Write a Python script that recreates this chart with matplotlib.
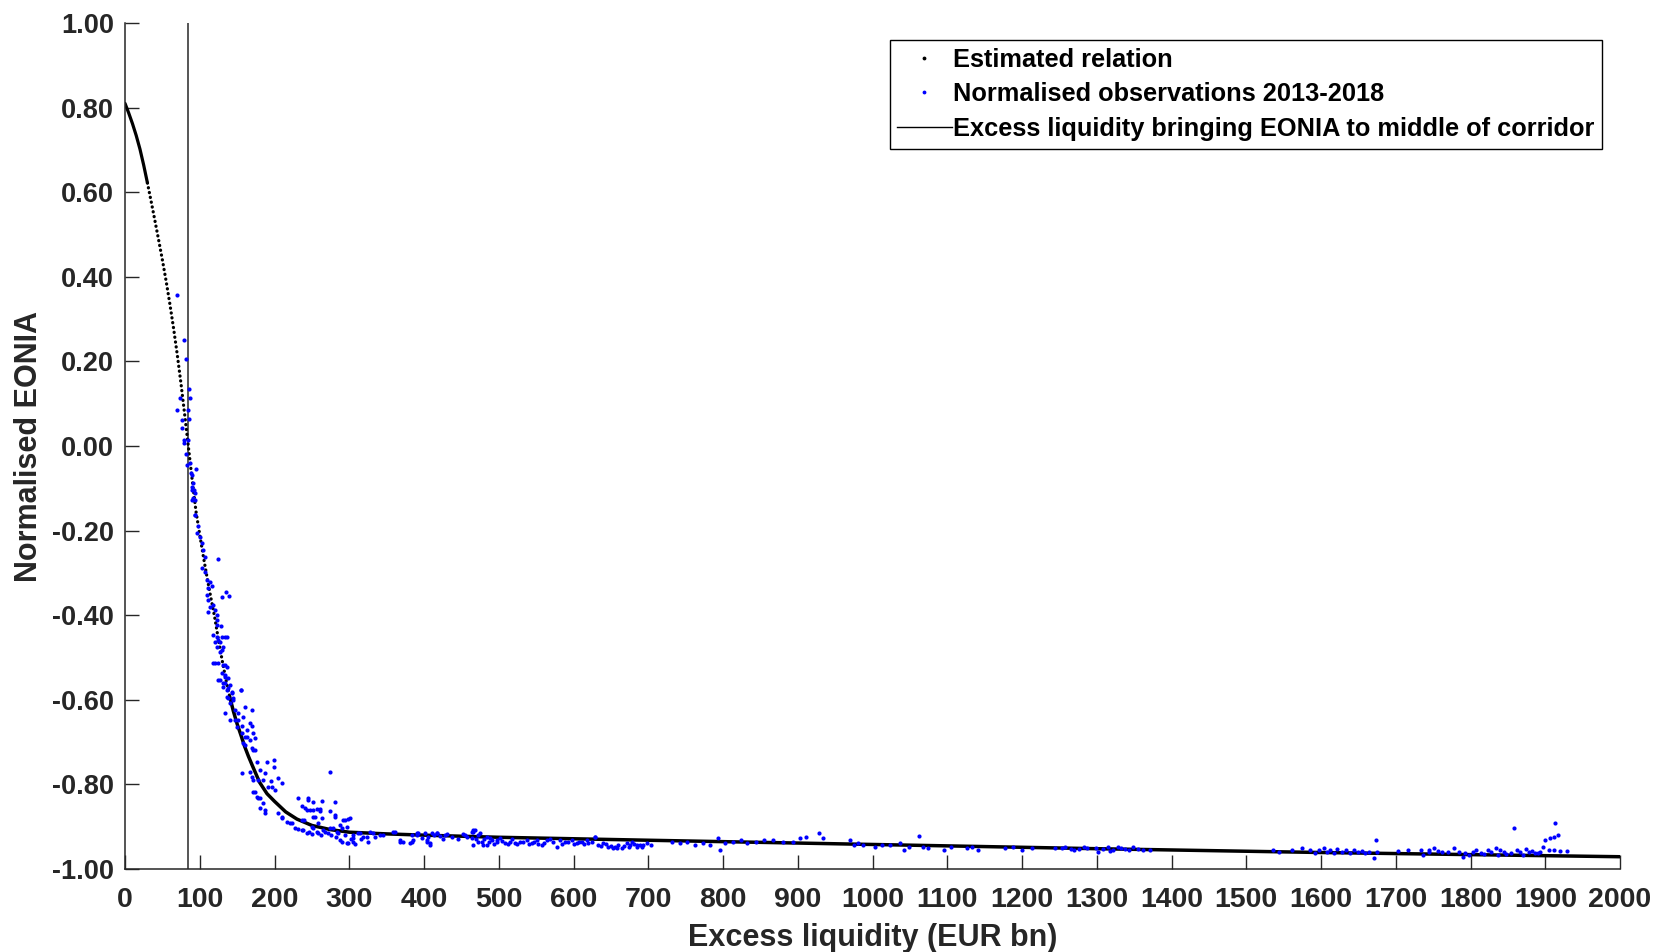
import matplotlib
matplotlib.use("Agg")
import matplotlib.pyplot as plt
from matplotlib.lines import Line2D

plt.rcParams['font.family'] = ['Liberation Sans', 'DejaVu Sans']

# ---- data ----
curve_x = [0, 5, 10, 15, 20, 25, 30, 35, 40, 45, 50, 55, 60, 65, 70, 75, 80, 85, 90, 95,
           100, 105, 110, 115, 120, 125, 130, 135, 140, 145, 150, 155, 160, 165, 170, 180,
           190, 200, 215, 230, 250, 275, 300, 350, 400, 500, 700, 1000, 1300, 1600, 2000]
curve_y = [0.810, 0.787, 0.762, 0.734, 0.702, 0.664, 0.622, 0.578, 0.533, 0.487, 0.440,
           0.390, 0.336, 0.278, 0.215, 0.146, 0.072, -0.005, -0.082, -0.155,
           -0.210, -0.263, -0.313, -0.360, -0.405, -0.458, -0.507, -0.552, -0.592, -0.627,
           -0.657, -0.683, -0.710, -0.733, -0.754, -0.795, -0.822, -0.840, -0.865, -0.882,
           -0.897, -0.907, -0.913, -0.917, -0.920, -0.925, -0.932, -0.942, -0.952, -0.961, -0.971]

obs_x = [
    69.1, 79.4, 81.2, 85.6, 87.4, 73.6, 70.0, 84.3, 76.7, 85.6, 76.3, 79.4, 84.3, 78.9, 82.0,
    83.4, 87.0, 94.5, 88.3, 89.2, 91.4, 89.6, 91.8, 93.6, 90.0, 93.2, 91.4, 89.2, 94.2, 93.6,
    97.3, 95.9,
    100.3, 102.6, 104.8, 107.0, 124.8, 102.6, 107.0, 109.3, 113.7, 111.4, 116.0, 134.7, 130.2,
    139.1, 109.3, 111.4, 118.1, 113.7, 120.4, 111.4, 122.7, 122.7, 122.7, 128.0, 118.1, 122.7,
    129.3, 136.0, 120.4, 127.0, 131.5, 122.7, 127.0, 120.4, 124.8, 131.5, 136.0, 129.3, 133.8,
    138.2, 127.0, 133.8, 140.5, 131.5, 136.0, 142.7, 155.2, 138.2, 144.9,
    124.8, 133.8, 129.3, 118.1, 133.8, 124.8, 133.8, 131.5, 138.2, 142.7, 136.0, 140.5, 144.9,
    147.2, 151.6,
    154.8, 160.5, 151.6, 140.5, 147.0, 158.3, 170.3, 167.2, 156.0, 162.8, 169.5, 160.5, 167.2,
    173.9, 160.5, 169.5, 173.9, 156.0, 176.2, 189.6, 199.3, 167.2, 180.6, 187.3, 199.3, 171.7,
    178.3, 194.9, 205.1, 209.6, 196.2, 200.7, 173.9, 178.3, 185.0, 187.3, 180.6, 187.3, 274.2,
    231.9, 245.2, 251.9, 263.1, 280.9, 236.4, 240.8, 247.5, 256.4, 260.9, 274.2, 254.2, 263.1,
    280.9, 292.0, 298.7, 287.6, 205.1, 209.6, 216.3, 220.7, 227.4, 236.4, 238.6, 243.1, 251.9,
    256.4, 265.3, 272.0, 278.7, 285.4, 289.9, 298.7, 305.4, 312.1, 318.8, 327.8, 341.1, 361.2,
    367.9, 381.3, 390.2, 403.6, 408.0, 417.0, 428.0, 466.0, 472.6, 479.3, 488.3, 497.3,
    133.8, 149.4, 156.0, 162.8, 171.7, 171.7, 158.3, 169.5, 185.0, 191.6, 171.7, 176.2, 180.6,
    209.6, 223.0, 245.2, 243.1, 251.9, 260.9, 239.9, 251.9, 258.6, 280.9, 294.3, 301.0, 236.4,
    249.8, 274.2, 283.2, 289.9, 296.5, 287.6, 296.5, 305.4, 305.4, 314.4, 323.3, 332.2, 345.6,
    359.0, 367.9, 383.5, 390.2,
    372.0, 383.5, 385.8, 392.4, 396.9, 401.3, 403.6, 408.0, 410.3, 417.0, 421.4, 430.4, 452.6,
    463.8, 468.3, 463.8, 466.0, 472.6, 477.2, 483.9, 483.9, 490.6, 497.3, 501.6, 508.4, 515.0,
    521.7, 528.4, 537.4, 544.1, 550.8, 557.5, 564.2, 573.1, 577.5, 582.0, 588.7, 597.6, 604.3,
    611.0, 617.7, 624.4, 628.8, 633.3, 640.0, 646.6, 653.3, 660.0, 664.4, 671.1, 677.8, 684.5,
    691.2, 697.9,
    455.3, 465.6, 629.4, 655.0, 675.5, 685.6, 693.4, 703.5, 731.8, 742.0, 752.2, 762.5, 772.7,
    782.9, 793.2, 795.7, 803.3, 813.6, 823.9, 831.5, 844.4, 854.5, 867.4, 880.2, 893.0, 903.3,
    910.9, 928.8, 933.9, 969.8, 975.0, 980.1, 987.7, 1003.0, 1013.3, 1023.5, 1036.4, 1041.5,
    1049.1, 1061.9, 1067.0, 1074.8, 1095.2, 1105.4, 1125.9, 1133.6, 1141.2, 1177.0, 1187.3,
    1200.0, 1212.9,
    1244, 1253, 1265, 1276, 1287, 1299.3, 1301.7, 1314.7, 1322.4, 1332.7, 1342.9, 1355.8,
    1371.2, 1258, 1270, 1283, 1308, 1318, 1328, 1338, 1348, 1362,
    1535.9, 1543.6, 1561.6, 1574.4, 1584.7, 1592.4, 1597.5, 1607.8, 1618, 1628.3, 1638.7, 1649,
    1659.2, 1673.6, 1670.5, 1674.6, 1604, 1612, 1622, 1633, 1644, 1655, 1664,
    1702.9, 1715.8, 1733.8, 1736.4, 1744, 1751.8, 1762.1, 1777.5, 1785.2, 1793, 1790.4, 1803.3,
    1813.6, 1823.9, 1834.2, 1836.8, 1844.5, 1854.8, 1858.5, 1862.6, 1870.3, 1878, 1885.7,
    1897.6, 1899.7, 1906.4, 1911.5, 1916.7, 1912.5, 1905.2, 1911.5, 1919.3, 1929.6,
    1808, 1818, 1828, 1840, 1848, 1866, 1874, 1882, 1890, 1893, 1745, 1756, 1770, 1798,
    405, 413, 425, 437, 445, 458, 470, 475, 480, 487, 494, 505, 512, 518, 525, 533, 540, 547,
    553, 560, 568, 585, 593, 600, 608, 614, 620, 637, 644, 650, 658, 668, 674, 681, 689,
    232, 246, 250, 258, 262, 268, 276, 282, 294, 302, 308, 316, 325, 335]

obs_y = [
    0.356, 0.250, 0.206, 0.135, 0.114, 0.113, 0.085, 0.084, 0.061, 0.065, 0.042, 0.014, 0.014,
    0.008, -0.019, -0.045, -0.041, -0.055, -0.065, -0.069, -0.088, -0.104, -0.104, -0.112,
    -0.128, -0.128, -0.124, -0.096, -0.163, -0.163, -0.190, -0.206,
    -0.214, -0.230, -0.246, -0.262, -0.266, -0.289, -0.297, -0.317, -0.321, -0.336, -0.332,
    -0.344, -0.358, -0.355, -0.352, -0.364, -0.376, -0.380, -0.388, -0.392, -0.400, -0.411,
    -0.423, -0.425, -0.447, -0.451, -0.451, -0.451, -0.463, -0.463, -0.474, -0.474, -0.486,
    -0.514, -0.512, -0.518, -0.522, -0.537, -0.541, -0.549, -0.553, -0.561, -0.565, -0.569,
    -0.577, -0.585, -0.578, -0.596, -0.596,
    -0.459, -0.451, -0.482, -0.514, -0.518, -0.553, -0.545, -0.561, -0.573, -0.581, -0.593,
    -0.608, -0.600, -0.624, -0.648,
    -0.577, -0.616, -0.632, -0.648, -0.648, -0.640, -0.624, -0.655, -0.663, -0.671, -0.663,
    -0.687, -0.695, -0.691, -0.707, -0.715, -0.719, -0.774, -0.746, -0.746, -0.742, -0.770,
    -0.766, -0.774, -0.758, -0.789, -0.789, -0.793, -0.786, -0.797, -0.805, -0.813, -0.817,
    -0.833, -0.845, -0.860, -0.856, -0.868, -0.770, -0.833, -0.837, -0.841, -0.839, -0.841,
    -0.851, -0.856, -0.860, -0.859, -0.864, -0.864, -0.876, -0.879, -0.876, -0.884, -0.882,
    -0.896, -0.868, -0.880, -0.888, -0.892, -0.904, -0.884, -0.908, -0.916, -0.904, -0.912,
    -0.908, -0.916, -0.904, -0.916, -0.935, -0.939, -0.927, -0.916, -0.924, -0.912, -0.920,
    -0.912, -0.935, -0.939, -0.920, -0.931, -0.943, -0.916, -0.920, -0.912, -0.935, -0.943,
    -0.927, -0.931,
    -0.632, -0.664, -0.679, -0.687, -0.679, -0.719, -0.703, -0.782, -0.789, -0.805, -0.817,
    -0.829, -0.833, -0.876, -0.892, -0.833, -0.861, -0.861, -0.857, -0.884, -0.876, -0.892,
    -0.872, -0.884, -0.880, -0.908, -0.900, -0.904, -0.912, -0.904, -0.900, -0.931, -0.939,
    -0.935, -0.920, -0.916, -0.924, -0.916, -0.920, -0.912, -0.931, -0.935, -0.916,
    -0.935, -0.920, -0.931, -0.916, -0.927, -0.916, -0.935, -0.939, -0.916, -0.914, -0.922,
    -0.918, -0.918, -0.912, -0.908, -0.927, -0.943, -0.920, -0.935, -0.924, -0.943, -0.931,
    -0.935, -0.927, -0.939, -0.935, -0.939, -0.935, -0.931, -0.939, -0.931, -0.943, -0.931,
    -0.935, -0.947, -0.931, -0.935, -0.931, -0.939, -0.935, -0.931, -0.935, -0.924, -0.943,
    -0.939, -0.947, -0.951, -0.943, -0.951, -0.939, -0.935, -0.943, -0.947, -0.939,
    -0.920, -0.908, -0.924, -0.947, -0.943, -0.947, -0.943, -0.943, -0.935, -0.939, -0.935,
    -0.943, -0.939, -0.943, -0.927, -0.955, -0.939, -0.935, -0.931, -0.939, -0.935, -0.931,
    -0.931, -0.935, -0.935, -0.927, -0.924, -0.916, -0.927, -0.931, -0.943, -0.939, -0.943,
    -0.947, -0.943, -0.943, -0.939, -0.955, -0.947, -0.922, -0.947, -0.951, -0.955, -0.947,
    -0.951, -0.947, -0.955, -0.951, -0.947, -0.955, -0.951,
    -0.951, -0.951, -0.952, -0.953, -0.951, -0.951, -0.959, -0.947, -0.955, -0.951, -0.955,
    -0.952, -0.955, -0.948, -0.955, -0.948, -0.952, -0.958, -0.948, -0.953, -0.949, -0.956,
    -0.955, -0.959, -0.955, -0.951, -0.955, -0.963, -0.954, -0.959, -0.963, -0.959, -0.963,
    -0.959, -0.963, -0.931, -0.975, -0.959, -0.951, -0.955, -0.952, -0.956, -0.955, -0.958,
    -0.960,
    -0.958, -0.955, -0.955, -0.967, -0.955, -0.951, -0.959, -0.951, -0.959, -0.963, -0.971,
    -0.959, -0.963, -0.955, -0.951, -0.967, -0.959, -0.963, -0.902, -0.955, -0.967, -0.959,
    -0.963, -0.947, -0.931, -0.927, -0.924, -0.920, -0.892, -0.955, -0.955, -0.958, -0.958,
    -0.955, -0.965, -0.960, -0.955, -0.965, -0.960, -0.953, -0.957, -0.963, -0.960, -0.960,
    -0.958, -0.960, -0.967,
    -0.925, -0.920, -0.928, -0.925, -0.930, -0.925, -0.930, -0.915, -0.928, -0.935, -0.940,
    -0.933, -0.940, -0.930, -0.940, -0.935, -0.942, -0.935, -0.940, -0.938, -0.930, -0.940,
    -0.935, -0.940, -0.935, -0.942, -0.938, -0.945, -0.940, -0.945, -0.950, -0.945, -0.948,
    -0.940, -0.944,
    -0.905, -0.912, -0.918, -0.915, -0.920, -0.912, -0.920, -0.925, -0.920, -0.930, -0.940,
    -0.930, -0.935, -0.925]

corridor_x = 84.5

x_ticks = list(range(0, 2001, 100))
y_ticks = [-1.0, -0.8, -0.6, -0.4, -0.2, 0.0, 0.2, 0.4, 0.6, 0.8, 1.0]

labels = ['Estimated relation', 'Normalised observations 2013-2018',
          'Excess liquidity bringing EONIA to middle of corridor']

# ---- figure ----
W, H = 1653, 952
fig = plt.figure(figsize=(W / 100, H / 100), dpi=100)
ax = fig.add_axes([125 / W, 1 - 869 / H, (1620 - 125) / W, (869 - 23) / H])

axc = '#262626'

# estimated relation: solid where the dense dots overlap, dotted where they separate
i0 = curve_x.index(30)
i1 = curve_x.index(140)
ax.plot(curve_x[:i0 + 1], curve_y[:i0 + 1], color='black', lw=2.3, solid_capstyle='round', zorder=2)
ax.plot(curve_x[i0:i1 + 1], curve_y[i0:i1 + 1], color='black', lw=2.35,
        linestyle=(0, (0.05, 1.45)), dash_capstyle='round', zorder=2)
ax.plot(curve_x[i1:], curve_y[i1:], color='black', lw=2.5, solid_capstyle='round', zorder=2)

ax.scatter(obs_x, obs_y, s=9, color='#0000ff', linewidths=0, zorder=3)

ax.axvline(corridor_x, color='#555555', lw=1.4, zorder=1)

ax.set_xlim(0, 2000)
ax.set_ylim(-1, 1)
ax.set_xticks(x_ticks)
ax.set_xticklabels([str(t) for t in x_ticks])
ax.set_yticks(y_ticks)
ax.set_yticklabels(['%.2f' % t for t in y_ticks])

for s in ['top', 'right']:
    ax.spines[s].set_visible(False)
for s in ['left', 'bottom']:
    ax.spines[s].set_color(axc)
    ax.spines[s].set_linewidth(1.1)

ax.tick_params(axis='both', direction='in', length=10, width=1.0, color=axc,
               labelcolor=axc)
ax.tick_params(axis='x', pad=13, labelsize=20.5)
ax.tick_params(axis='y', pad=8, labelsize=19.5)
for lab in ax.get_xticklabels() + ax.get_yticklabels():
    lab.set_fontweight('bold')

ax.set_xlabel('Excess liquidity (EUR bn)', fontsize=22, fontweight='bold', color=axc)
ax.set_ylabel('Normalised EONIA', fontsize=22, fontweight='bold', color=axc)
ax.xaxis.set_label_coords(0.5, -0.064)
ax.yaxis.set_label_coords(-0.054, 0.5)

handles = [Line2D([], [], marker='.', color='black', linestyle='none', markersize=3.5),
           Line2D([], [], marker='.', color='#0000ff', linestyle='none', markersize=3.5),
           Line2D([], [], color='black', lw=1.0)]
leg = ax.legend(handles, labels, loc='upper right', bbox_to_anchor=(0.988, 0.980),
                borderaxespad=0, fancybox=False, framealpha=1, edgecolor='black',
                prop={'size': 18.3, 'weight': 'bold'}, handlelength=2.15, handletextpad=0.05,
                labelspacing=0.42, borderpad=0.3)
leg.get_frame().set_linewidth(1.0)

fig.savefig('out.png', dpi=100)
